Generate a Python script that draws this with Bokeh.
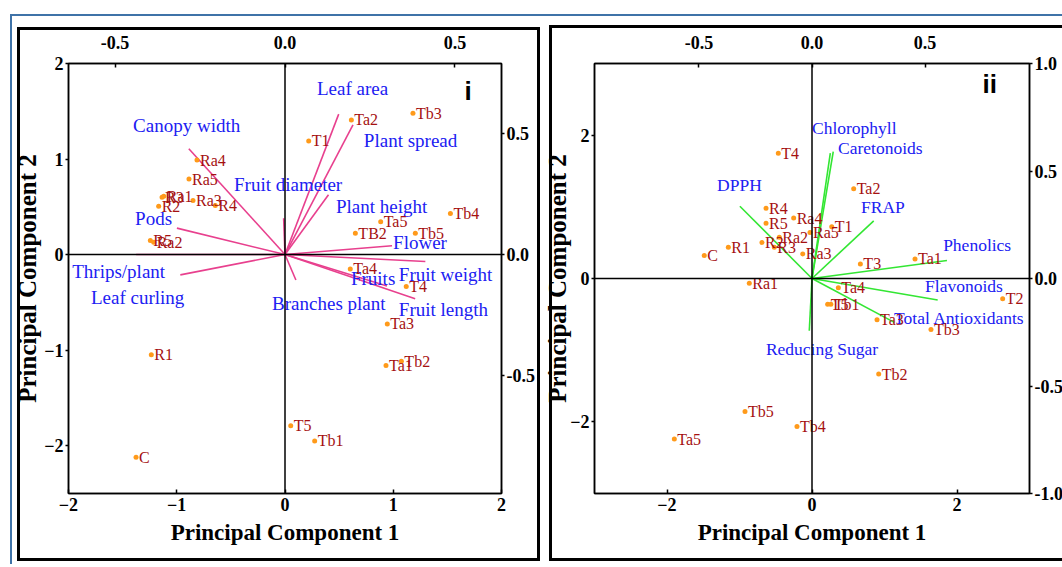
from bokeh.plotting import figure
from bokeh.models import Range1d, LinearAxis, Span, FixedTicker, PrintfTickFormatter, Label
from bokeh.layouts import row
from bokeh.embed import file_html
from bokeh.resources import INLINE
from bokeh.core.properties import value

# ---------------- Panel i data ----------------
p1_names = ["C", "R1", "R2", "R3", "R4", "R5", "Ra1", "Ra2", "Ra3", "Ra4", "Ra5",
            "T1", "TB2", "T4", "T5", "Ta1", "Ta2", "Ta3", "Ta4", "Ta5",
            "Tb1", "Tb2", "Tb3", "Tb4", "Tb5"]
p1_pc1 = [-1.376, -1.235, -1.167, -1.136, -0.644, -1.244, -1.12, -1.213, -0.85, -0.813, -0.887,
          0.219, 0.65, 1.12, 0.053, 0.933, 0.613, 0.945, 0.603, 0.884,
          0.274, 1.075, 1.182, 1.528, 1.204]
p1_pc2 = [-2.12, -1.047, 0.506, 0.60, 0.513, 0.147, 0.61, 0.129, 0.565, 0.99, 0.79,
          1.19, 0.223, -0.335, -1.79, -1.16, 1.41, -0.726, -0.15, 0.345,
          -1.95, -1.117, 1.48, 0.43, 0.223]

p1_vars = ["Leaf area", "Canopy width", "Plant spread", "Fruit diameter", "Plant height",
           "Pods", "Flower", "Thrips/plant", "Fruit weight", "Fruits", "Leaf curling",
           "Branches plant", "Fruit length"]
p1_load1 = [0.158, -0.283, 0.20, -0.004, 0.128, -0.318, 0.315, -0.438, 0.413, 0.30, -0.308, 0.032, 0.383]
p1_load2 = [0.58, 0.437, 0.536, 0.15, 0.247, 0.109, 0.036, 0.0, -0.029, -0.13, -0.084, -0.105, -0.183]
p1_lab_x = [0.094, -0.447, 0.232, -0.15, 0.15, -0.441, 0.318, -0.626, 0.335, 0.194, -0.571, -0.038, 0.335]
p1_lab_y = [0.686, 0.533, 0.471, 0.289, 0.198, 0.149, 0.05, -0.07, -0.083, -0.099, -0.178, -0.202, -0.227]

# ---------------- Panel ii data ----------------
p2_names = ["C", "R1", "R2", "R3", "R4", "R5", "Ra1", "Ra2", "Ra3", "Ra4", "Ra5",
            "T1", "T2", "T3", "T4", "T5", "Ta1", "Ta2", "Ta3", "Ta4", "Ta5",
            "Tb1", "Tb2", "Tb3", "Tb4", "Tb5"]
p2_pc1 = [-1.486, -1.154, -0.69, -0.52, -0.634, -0.634, -0.865, -0.451, -0.128, -0.253, -0.028,
          0.272, 2.63, 0.667, -0.465, 0.216, 1.421, 0.575, 0.897, 0.363, -1.899,
          0.26, 0.92, 1.641, -0.207, -0.924]
p2_pc2 = [0.32, 0.435, 0.504, 0.435, 0.98, 0.77, -0.065, 0.574, 0.343, 0.843, 0.643,
          0.722, -0.282, 0.204, 1.746, -0.361, 0.273, 1.254, -0.574, -0.129, -2.24,
          -0.361, -1.333, -0.713, -2.065, -1.857]

p2_vars = ["Chlorophyll", "Caretonoids", "DPPH", "FRAP", "Phenolics", "Flavonoids",
           "Total Antioxidants", "Reducing Sugar"]
p2_load1 = [0.081, 0.094, -0.319, 0.273, 0.597, 0.556, 0.364, -0.012]
p2_load2 = [0.583, 0.59, 0.336, 0.268, 0.084, -0.10, -0.204, -0.243]
p2_lab_x = [0.0, 0.115, -0.42, 0.217, 0.58, 0.50, 0.363, -0.204]
p2_lab_y = [0.70, 0.607, 0.435, 0.332, 0.154, -0.033, -0.182, -0.327]

SERIF = value("Liberation Serif")
BLUE = "#2020f2"
DOT = "#ff9a1a"
PTXT = "#a51010"


def style_axis(ax, ticks, fmt=None, standoff=4, tick_in=0, tick_out=3, size="18px"):
    ax.ticker = FixedTicker(ticks=ticks)
    if fmt:
        ax.formatter = PrintfTickFormatter(format=fmt)
    ax.major_label_text_font = "Liberation Serif"
    ax.major_label_text_font_style = "bold"
    ax.major_label_text_font_size = size
    ax.major_label_text_color = "black"
    ax.axis_line_color = "black"
    ax.axis_line_width = 1.5
    ax.major_tick_line_color = "black"
    ax.major_tick_line_width = 1.5
    ax.major_tick_in = tick_in
    ax.major_tick_out = tick_out
    ax.minor_tick_line_color = None
    ax.major_label_standoff = standoff
    ax.axis_label_text_font = "Liberation Serif"
    ax.axis_label_text_font_style = "bold"
    ax.axis_label_text_color = "black"


def rect(x, y, w, h, col="#000"):
    return f"linear-gradient({col},{col}) {x}px {y}px / {w}px {h}px no-repeat"


def make_panel(frame_w, bl, br, bg,
               xr, yr, lxr, lyr,
               names, pc1, pc2, vars_, l1, l2, labx, laby,
               line_col, bx_ticks, by_ticks, tx_ticks, ry_ticks, ylab_standoff,
               roman, roman_x, roman_dy, var_size, pt_size):
    p = figure(frame_width=frame_w, frame_height=430, height=564,
               x_range=Range1d(*xr), y_range=Range1d(*yr),
               output_backend="svg", toolbar_location=None,
               min_border_left=bl, min_border_right=br,
               min_border_top=63, min_border_bottom=71,
               styles={"background": bg})
    p.extra_x_ranges = {"lx": Range1d(*lxr)}
    p.extra_y_ranges = {"ly": Range1d(*lyr)}
    p.grid.visible = False
    p.outline_line_color = "black"
    p.outline_line_width = 1.5
    p.background_fill_color = "white"
    p.border_fill_color = None

    style_axis(p.xaxis[0], bx_ticks, standoff=4, tick_in=4, tick_out=0)
    p.xaxis[0].axis_label = "Principal Component 1"
    p.xaxis[0].axis_label_standoff = 6
    p.xaxis[0].axis_label_text_font_size = "23px"
    style_axis(p.yaxis[0], by_ticks, standoff=2)
    p.yaxis[0].axis_label = "Principal Component 2"
    p.yaxis[0].axis_label_standoff = ylab_standoff
    p.yaxis[0].axis_label_text_font_size = "25px"

    top = LinearAxis(x_range_name="lx")
    style_axis(top, tx_ticks, fmt="%.1f", standoff=15, tick_in=4, tick_out=0)
    p.add_layout(top, "above")
    right = LinearAxis(y_range_name="ly")
    style_axis(right, ry_ticks, fmt="%.1f", standoff=2, tick_out=3)
    p.add_layout(right, "right")

    p.add_layout(Span(location=0, dimension="height", line_color="black", line_width=1.5))
    p.add_layout(Span(location=0, dimension="width", line_color="black", line_width=1.5))

    # loading vectors
    x0 = [0] * len(l1)
    p.segment(x0=x0, y0=x0, x1=l1, y1=l2, x_range_name="lx", y_range_name="ly",
              line_color=line_col, line_width=1.6)
    p.text(x=labx, y=laby, text=vars_, x_range_name="lx", y_range_name="ly",
           text_font=SERIF, text_font_size=var_size, text_color=BLUE,
           text_align="left", text_baseline="middle")

    # scores
    p.scatter(x=pc1, y=pc2, size=5, color=DOT, line_color=None)
    p.text(x=pc1, y=pc2, text=names, x_offset=3, text_font=SERIF,
           text_font_size=pt_size, text_color=PTXT,
           text_align="left", text_baseline="middle")

    p.add_layout(Label(x=roman_x, y=lyr[1], x_units="screen", y_units="data",
                       y_range_name="ly", y_offset=roman_dy, text=roman,
                       text_font="Liberation Sans", text_font_style="bold",
                       text_font_size="26px", text_color="black"))
    return p


BLUEC = "#3f73a8"
bg1 = ", ".join([
    rect(10, 14, 600, 2, BLUEC), rect(10, 14, 2, 600, BLUEC),
    rect(17, 27, 3, 534), rect(17, 27, 520, 3), rect(17, 558, 520, 3),
])
bg2 = ", ".join([
    rect(0, 14, 600, 2, BLUEC),
    rect(0, 27, 3, 534), rect(0, 27, 2, 3), rect(0, 558, 2, 3),
    rect(12, 25, 3, 536), rect(12, 25, 600, 3), rect(12, 558, 600, 3),
])

p1 = make_panel(433, 68, 34, bg1,
                (-2, 2), (-2.5, 2), (-0.637, 0.637), (-0.987, 0.789),
                p1_names, p1_pc1, p1_pc2, p1_vars, p1_load1, p1_load2, p1_lab_x, p1_lab_y,
                "#e8408e", [-2, -1, 0, 1, 2], [-2, -1, 0, 1, 2], [-0.5, 0, 0.5], [-0.5, 0, 0.5], 0,
                "i", 396, -42, "19px", "16px")

p2 = make_panel(435, 57, 33, bg2,
                (-3, 3), (-3, 3), (-0.962, 0.962), (-1, 1),
                p2_names, p2_pc1, p2_pc2, p2_vars, p2_load1, p2_load2, p2_lab_x, p2_lab_y,
                "#33e633", [-2, 0, 2], [-2, 0, 2], [-0.5, 0, 0.5], [-1, -0.5, 0, 0.5, 1], -4,
                "ii", 388, -35, "17.5px", "16px")

layout = row(p1, p2, spacing=0)
open("out.html", "w").write(file_html(layout, INLINE))
